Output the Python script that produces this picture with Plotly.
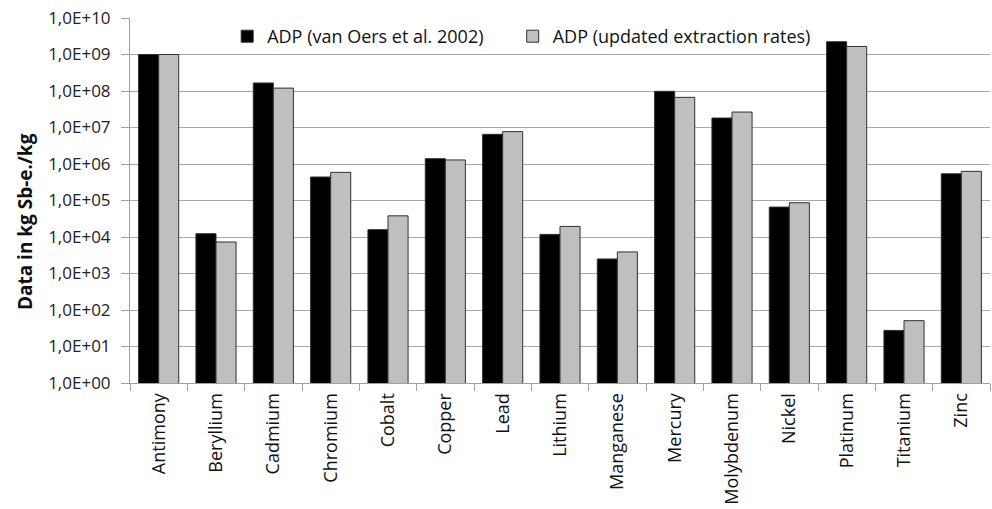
import plotly.graph_objects as go

categories = ["Antimony", "Beryllium", "Cadmium", "Chromium", "Cobalt", "Copper", "Lead",
              "Lithium", "Manganese", "Mercury", "Molybdenum", "Nickel", "Platinum", "Titanium", "Zinc"]
adp_van_oers = [1.0e9, 1.23e4, 1.66e8, 4.4e5, 1.59e4, 1.4e6, 6.5e6,
                1.18e4, 2.5e3, 9.8e7, 1.82e7, 6.6e4, 2.24e9, 27.6, 5.4e5]
adp_updated = [1.0e9, 7.3e3, 1.2e8, 5.9e5, 3.8e4, 1.29e6, 7.7e6,
               1.95e4, 3.9e3, 6.7e7, 2.65e7, 8.7e4, 1.66e9, 51, 6.3e5]
series_names = ["ADP (van Oers et al. 2002)", "ADP (updated extraction rates)"]
tick_vals = [1e0, 1e1, 1e2, 1e3, 1e4, 1e5, 1e6, 1e7, 1e8, 1e9, 1e10]
tick_text = ["1,0E+00", "1,0E+01", "1,0E+02", "1,0E+03", "1,0E+04", "1,0E+05",
             "1,0E+06", "1,0E+07", "1,0E+08", "1,0E+09", "1,0E+10"]
y_title = "Data in kg Sb-e./kg"

font_family = "Open Sans, Noto Sans, sans-serif"

fig = go.Figure()
fig.add_trace(go.Bar(x=categories, y=adp_van_oers, name=series_names[0], legend="legend",
                     marker=dict(color="#000000", line=dict(color="#303030", width=1))))
fig.add_trace(go.Bar(x=categories, y=adp_updated, name=series_names[1], legend="legend2",
                     marker=dict(color="#bfbfbf", line=dict(color="#303030", width=1))))

legend_style = dict(orientation="h", y=1.0, yanchor="top", xanchor="left",
                    bgcolor="rgba(255,255,255,0)", font=dict(size=18, color="#111111"),
                    itemwidth=30)

fig.update_layout(
    width=992, height=509,
    margin=dict(l=130, r=2, t=18, b=126),
    paper_bgcolor="white", plot_bgcolor="white",
    barmode="group", bargap=0.3, bargroupgap=0,
    font=dict(family=font_family, size=14, color="#222222"),
    showlegend=True,
    legend=dict(x=0.113, **legend_style),
    legend2=dict(x=0.445, **legend_style),
    xaxis=dict(type="category", tickangle=-90, tickson="boundaries",
               ticks="outside", ticklen=7, tickcolor="#a0a0a0",
               showline=True, linecolor="#a0a0a0", linewidth=1,
               ticklabelstandoff=2,
               showgrid=False, tickfont=dict(size=18, color="#111111")),
    yaxis=dict(type="log", range=[0, 10], tickvals=tick_vals, ticktext=tick_text,
               showgrid=True, gridcolor="#a8a8a8", gridwidth=1,
               ticks="outside", ticklen=8, tickcolor="#a0a0a0",
               showline=True, linecolor="#a0a0a0", linewidth=1,
               ticklabelstandoff=7,
               tickfont=dict(size=17, color="#222222")),
    annotations=[dict(text="<b>" + y_title + "</b>", xref="paper", yref="paper",
                      x=-0.122, y=0.441, xanchor="center", yanchor="middle",
                      textangle=-90, showarrow=False,
                      font=dict(size=19, color="#111111", family=font_family))],
)

fig.write_html("out.html")
